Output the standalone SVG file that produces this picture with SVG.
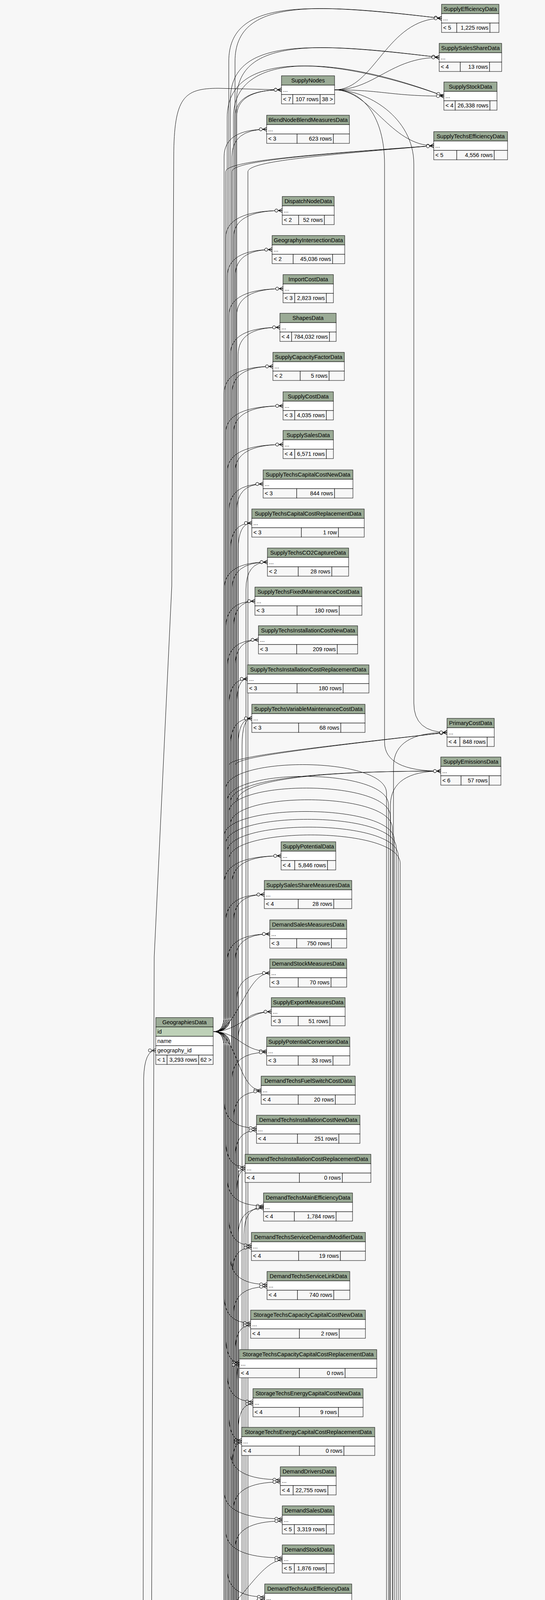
<svg xmlns="http://www.w3.org/2000/svg" width="1396" height="7390" viewBox="0 0 1396 7390">
<defs>
<style>
.h{fill:#9bab96;stroke:#000;stroke-width:1}
.w{fill:#fff;stroke:#000;stroke-width:1}
.k{fill:#bed1b8;stroke:#000;stroke-width:1}
.f{fill:#f7f7f7;stroke:#000;stroke-width:1}
text{font-family:"Liberation Sans",Arial,Helvetica,sans-serif;font-size:14.5px;fill:#000}
.c{text-anchor:middle}
.e{text-anchor:end}
#connectors path{fill:none;stroke:#000;stroke-width:1;marker-end:url(#cf)}
#connectors path.g{stroke:#999}
</style>
<marker id="cf" markerUnits="userSpaceOnUse" markerWidth="24" markerHeight="14" viewBox="-22 -7 24 14" refX="0" refY="0" orient="auto" overflow="visible">
<path d="M-10 0L0-5M-10 0L0 0M-10 0L0 5" fill="none" stroke="#000" stroke-width="1"/>
<circle cx="-15" cy="0" r="4" fill="#fff" stroke="#000" stroke-width="1"/>
</marker>
</defs>
<rect x="0" y="0" width="1396" height="7390" fill="#f7f7f7"/>
<g id="connectors">
<path d="M547 2641Q574 2641 574 2601L574 401Q574 331 683 331"/>
<path d="M547 2641Q578 2641 578 2601L578 609Q578 539 723 539"/>
<path d="M547 2641Q582 2641 582 2601L582 709Q582 639 697 639"/>
<path d="M547 2641Q586 2641 586 2601L586 809Q586 739 725 739"/>
<path d="M547 2641Q590 2641 590 2601L590 908Q590 838 717 838"/>
<path d="M547 2641Q574 2641 574 2601L574 1008Q574 938 699 938"/>
<path d="M547 2641Q578 2641 578 2601L578 1109Q578 1039 725 1039"/>
<path d="M547 2641Q582 2641 582 2601L582 1208Q582 1138 725 1138"/>
<path d="M547 2641Q586 2641 586 2601L586 1309Q586 1239 674 1239"/>
<path d="M547 2641Q590 2641 590 2601L590 1409Q590 1339 645 1339"/>
<path d="M547 2641Q574 2641 574 2601L574 1509Q574 1439 685 1439"/>
<path d="M547 2641Q578 2641 578 2601L578 1609Q578 1539 653 1539"/>
<path d="M547 2641Q582 2641 582 2601L582 1708Q582 1638 662 1638"/>
<path d="M547 2641Q586 2641 586 2601L586 1808Q586 1738 634 1738"/>
<path d="M547 2641Q590 2641 590 2601L590 1909Q590 1839 645 1839"/>
<path d="M547 2641Q574 2641 574 2601L574 2261Q574 2191 720 2191"/>
<path d="M547 2641Q578 2641 578 2601L578 2360Q578 2290 677 2290"/>
<path d="M547 2641Q582 2641 582 2601L582 2461Q582 2391 691 2391"/>
<path d="M547 2641C607 2641 631 2491 691 2491"/>
<path d="M547 2641C607 2641 635 2590 695 2590"/>
<path d="M547 2641C607 2641 623 2691 683 2691"/>
<path d="M547 2641C607 2641 609 2791 669 2791"/>
<path d="M547 2641Q586 2641 586 2601L586 157C586 -3 786 7 1131 47"/>
<path d="M547 2641Q590 2641 590 2601L590 257C590 97 790 107 1125 147"/>
<path d="M547 2641Q582 2641 582 2601L582 300C582 130 842 140 1137 246"/>
<path d="M547 2641Q578 2641 578 2601L578 440C578 415 728 400 1111 373"/>
<path d="M547 2641Q586 2641 586 2601L586 1960C586 1940 700 1925 1145 1875"/>
<path d="M547 2641Q590 2641 590 2601L590 2054C590 2004 740 1974 1129 1974"/>
<path d="M547 2641Q574 2641 574 2681L574 2818Q574 2888 657 2888"/>
<path d="M547 2641Q578 2641 578 2681L578 2918Q578 2988 628 2988"/>
<path d="M547 2641Q582 2641 582 2681L582 3017Q582 3087 675 3087"/>
<path d="M547 2641Q586 2641 586 2681L586 3118Q586 3188 644 3188"/>
<path d="M547 2641Q590 2641 590 2681L590 3218Q590 3288 684 3288"/>
<path d="M547 2641Q574 2641 574 2681L574 3317Q574 3387 642 3387"/>
<path d="M547 2641Q578 2641 578 2681L578 3418Q578 3488 613 3488"/>
<path d="M547 2641Q582 2641 582 2681L582 3518Q582 3588 648 3588"/>
<path d="M547 2641Q586 2641 586 2681L586 3617Q586 3687 619 3687"/>
<path d="M547 2641Q590 2641 590 2681L590 3718Q590 3788 718 3788"/>
<path d="M547 2641Q574 2641 574 2681L574 3818Q574 3888 723 3888"/>
<path d="M547 2641Q578 2641 578 2681L578 3918Q578 3988 723 3988"/>
<path d="M547 2641Q582 2641 582 2681L582 4018Q582 4088 678 4088"/>
<path d="M547 2641Q586 2641 586 2681L586 4117Q586 4187 669 4187"/>
<path d="M547 2641Q590 2641 590 2681L590 4218Q590 4288 640 4288"/>
<path d="M547 2641Q574 2641 574 2681L574 4318Q574 4388 647 4388"/>
<path d="M547 2641Q578 2641 578 2681L578 4505Q578 4575 726 4575"/>
<path d="M547 2641Q582 2641 582 2681L582 4606Q582 4676 697 4676"/>
<path d="M547 2641Q586 2641 586 2681L586 4758Q586 4828 697 4828"/>
<path d="M547 2641Q590 2641 590 2681L590 5033Q590 5103 678 5103"/>
<path d="M547 2641Q574 2641 574 2681L574 5185Q574 5255 686 5255"/>
<path d="M547 2641Q578 2641 578 2681L578 5374Q578 5444 669 5444"/>
<path d="M547 2641Q582 2641 582 2681L582 5473Q582 5543 687 5543"/>
<path d="M547 2641Q586 2641 586 2681L586 5574Q586 5644 686 5644"/>
<path d="M547 2641Q578 2641 578 2601L578 2020C578 1935 990 1935 990 2030L990 4423Q990 4503 1059 4503"/>
<path d="M547 2641Q582 2641 582 2601L582 2050C582 1965 995 1965 995 2060L995 4674Q995 4754 1066 4754"/>
<path d="M547 2641Q586 2641 586 2601L586 2080C586 1995 1000 1995 1000 2090L1000 4778Q1000 4858 1031 4858"/>
<path d="M547 2641Q590 2641 590 2601L590 2110C590 2025 1005 2025 1005 2120L1005 4878Q1005 4958 1071 4958"/>
<path d="M547 2641Q574 2641 574 2601L574 2140C574 2055 1010 2055 1010 2150L1010 5003Q1010 5083 1054 5083"/>
<path d="M547 2641Q578 2641 578 2601L578 2160C578 2075 1015 2075 1015 2170L1015 5250Q1015 5330 1058 5330"/>
<path d="M547 2641Q582 2641 582 2601L582 2180C582 2095 1020 2095 1020 2190L1020 5350Q1020 5430 1074 5430"/>
<path d="M547 2641Q586 2641 586 2601L586 2200C586 2115 1025 2115 1025 2210L1025 5874Q1025 5954 1043 5954"/>
<path d="M540 4141Q594 4141 594 4101L594 401Q594 331 683 331"/>
<path d="M540 4141Q598 4141 598 4101L598 609Q598 539 723 539"/>
<path d="M540 4141Q602 4141 602 4101L602 709Q602 639 697 639"/>
<path d="M540 4141Q606 4141 606 4101L606 809Q606 739 725 739"/>
<path d="M540 4141Q610 4141 610 4101L610 908Q610 838 717 838"/>
<path d="M540 4141Q594 4141 594 4101L594 1008Q594 938 699 938"/>
<path d="M540 4141Q598 4141 598 4101L598 1109Q598 1039 725 1039"/>
<path d="M540 4141Q602 4141 602 4101L602 1208Q602 1138 725 1138"/>
<path d="M540 4141Q606 4141 606 4101L606 1309Q606 1239 674 1239"/>
<path d="M540 4141Q610 4141 610 4101L610 1409Q610 1339 645 1339"/>
<path d="M540 4141Q594 4141 594 4101L594 1509Q594 1439 685 1439"/>
<path d="M540 4141Q598 4141 598 4101L598 1609Q598 1539 653 1539"/>
<path d="M540 4141Q602 4141 602 4101L602 1708Q602 1638 662 1638"/>
<path d="M540 4141Q606 4141 606 4101L606 1808Q606 1738 634 1738"/>
<path d="M540 4141Q610 4141 610 4101L610 1909Q610 1839 645 1839"/>
<path d="M540 4141Q594 4141 594 4101L594 2261Q594 2191 720 2191"/>
<path d="M540 4141Q598 4141 598 4101L598 2360Q598 2290 677 2290"/>
<path d="M540 4141Q602 4141 602 4101L602 2461Q602 2391 691 2391"/>
<path d="M540 4141Q606 4141 606 4101L606 2561Q606 2491 691 2491"/>
<path d="M540 4141Q610 4141 610 4101L610 2660Q610 2590 695 2590"/>
<path d="M540 4141Q594 4141 594 4101L594 2764Q594 2694 683 2694"/>
<path d="M540 4141Q598 4141 598 4101L598 2864Q598 2794 669 2794"/>
<path d="M540 4141Q602 4141 602 4101L602 2964Q602 2894 657 2894"/>
<path d="M540 4141Q606 4141 606 4101L606 3064Q606 2994 628 2994"/>
<path d="M540 4141Q610 4141 610 4101L610 3163Q610 3093 675 3093"/>
<path d="M540 4141Q594 4141 594 4101L594 3264Q594 3194 644 3194"/>
<path d="M540 4141Q598 4141 598 4101L598 3364Q598 3294 684 3294"/>
<path d="M540 4141Q602 4141 602 4101L602 3463Q602 3393 642 3393"/>
<path d="M540 4141Q606 4141 606 4101L606 3564Q606 3494 613 3494"/>
<path d="M540 4141Q610 4141 610 4101L610 3664Q610 3594 648 3594"/>
<path d="M540 4141Q594 4141 594 4101L594 3763Q594 3693 619 3693"/>
<path d="M540 4141Q598 4141 598 4101L598 3864Q598 3794 718 3794"/>
<path d="M540 4141Q602 4141 602 4101L602 3964Q602 3894 723 3894"/>
<path d="M540 4141C600 4141 663 3994 723 3994"/>
<path d="M540 4141C600 4141 618 4094 678 4094"/>
<path d="M540 4141C600 4141 609 4193 669 4193"/>
<path d="M540 4141C600 4141 580 4294 640 4294"/>
<path d="M540 4141Q606 4141 606 4181L606 4324Q606 4394 647 4394"/>
<path d="M540 4141Q610 4141 610 4181L610 4511Q610 4581 726 4581"/>
<path d="M540 4141Q594 4141 594 4181L594 4612Q594 4682 697 4682"/>
<path d="M540 4141Q598 4141 598 4181L598 4764Q598 4834 697 4834"/>
<path d="M540 4141Q602 4141 602 4181L602 5039Q602 5109 678 5109"/>
<path d="M540 4141Q606 4141 606 4181L606 5191Q606 5261 686 5261"/>
<path d="M540 4141Q610 4141 610 4181L610 5380Q610 5450 669 5450"/>
<path d="M540 4141Q594 4141 594 4181L594 5479Q594 5549 687 5549"/>
<path d="M540 4141Q598 4141 598 4181L598 5580Q598 5650 686 5650"/>
<path d="M540 4141Q602 4141 602 4101L602 157C602 -3 802 7 1131 47"/>
<path d="M540 4141Q606 4141 606 4101L606 257C606 97 806 107 1125 147"/>
<path d="M540 4141Q598 4141 598 4101L598 300C598 130 858 140 1137 246"/>
<path d="M540 4141Q594 4141 594 4101L594 440C594 415 744 400 1111 373"/>
<path d="M540 4141Q602 4141 602 4101L602 1960C602 1940 716 1925 1145 1875"/>
<path d="M540 4141Q606 4141 606 4101L606 2054C606 2004 756 1974 1129 1974"/>
<path d="M540 4141Q602 4141 602 4181L602 4413C602 4523 709 4518 1059 4503"/>
<path d="M540 4141Q606 4141 606 4181L606 4664C606 4774 716 4769 1066 4754"/>
<path d="M540 4141Q610 4141 610 4181L610 4768C610 4878 681 4873 1031 4858"/>
<path d="M540 4141Q594 4141 594 4181L594 4868C594 4978 721 4973 1071 4958"/>
<path d="M540 4141Q598 4141 598 4181L598 5017C598 5127 704 5122 1054 5107"/>
<path d="M540 4141Q602 4141 602 4181L602 5041C602 5151 704 5146 1054 5131"/>
<path d="M540 4141Q606 4141 606 4181L606 5240C606 5350 708 5345 1058 5330"/>
<path d="M540 4141Q610 4141 610 4181L610 5340C610 5450 724 5445 1074 5430"/>
<path d="M540 4141Q594 4141 594 4181L594 5864C594 5974 693 5969 1043 5954"/>
<path d="M857 230C960 230 990 47 1131 47"/>
<path d="M857 230C960 230 1000 147 1125 147"/>
<path d="M857 230C980 230 1000 246 1137 246"/>
<path d="M857 230C950 230 1000 373 1111 373"/>
<path d="M857 230C940 230 1060 300 1060 420L1060 1800Q1060 1875 1145 1875"/>
<path d="M857 230C930 230 985 300 985 420L985 1900Q985 1974 1129 1974"/>
<path d="M691 6702Q625 6702 625 6662L625 3160Q625 3090 675 3090"/>
<path d="M701 7026Q630 7026 630 6986L630 1509Q630 1439 685 1439"/>
<path d="M710 7126Q635 7126 635 7086L635 440C635 415 785 400 1111 373"/>
<path d="M660 7226Q620 7226 620 7186L620 1909Q620 1839 645 1839"/>
<path d="M138 6922C388 6922 441 6698 691 6698"/>
<path d="M138 6922C380 6922 441 6706 691 6706"/>
<path d="M138 6922C388 6922 444 6798 694 6798"/>
<path d="M138 6922C380 6922 444 6806 694 6806"/>
<path d="M138 6922C388 6922 451 7022 701 7022"/>
<path d="M138 6922C380 6922 451 7030 701 7030"/>
<path d="M138 6922C388 6922 460 7122 710 7122"/>
<path d="M138 6922C380 6922 460 7130 710 7130"/>
<path d="M138 6922C388 6922 410 7222 660 7222"/>
<path d="M138 6922C380 6922 410 7230 660 7230"/>
<path d="M138 6922C538 6922 647 6848 1047 6848"/>
<path d="M138 6922C530 6922 647 6856 1047 6856"/>
<path d="M138 6922C388 6922 424 6410 674 6410"/>
<path d="M138 6922C380 6922 424 6418 674 6418"/>
<path d="M138 6922C388 6922 435 6510 685 6510"/>
<path d="M138 6922C380 6922 435 6518 685 6518"/>
<path d="M138 6922C388 6922 421 6146 671 6146"/>
<path d="M138 6922C388 6922 421 6170 671 6170"/>
<path d="M138 6922C388 6922 430 5815 680 5815"/>
<path d="M138 6922C380 6922 430 5823 680 5823"/>
<path d="M138 6922C538 6922 671 6644 1071 6644"/>
<path d="M138 6922C400 6922 602 6850 602 6600L602 300Q602 230 721 230"/>
<path d="M138 6922C170 6922 175 7050 200 7150C240 7310 480 7345 800 7345C990 7345 1000 7250 1003 7050L1008 1960Q1010 1875 1145 1875"/>
<path d="M138 6922C165 6922 168 7050 192 7150C232 7300 480 7335 800 7335C980 7335 992 7250 995 7050L1000 2060Q1002 1974 1129 1974"/>
<path d="M135 6437C280 6437 365 6350 365 6150L368 2760Q370 2689 399 2689"/>
<path d="M135 6437C300 6437 380 6380 380 6200L395 2450L440 1500L445 400C446 250 470 226 560 226L721 230"/>
<path d="M135 6437C385 6437 424 6414 674 6414"/>
<path d="M135 6437C385 6437 435 6514 685 6514"/>
<path d="M135 6437C385 6437 421 6074 671 6074"/>
<path d="M135 6437C385 6437 441 6702 691 6702"/>
<path d="M135 6437C385 6437 444 6802 694 6802"/>
<path d="M135 6437C535 6437 647 6852 1047 6852"/>
<path d="M135 6437C535 6437 671 6640 1071 6640"/>
<path d="M135 6437C385 6437 430 5819 680 5819"/>
<path d="M135 6437C385 6437 451 7026 701 7026"/>
<path d="M135 6437C385 6437 460 7126 710 7126"/>
<path d="M135 6437C385 6437 410 7226 660 7226"/>
<path d="M135 6437C175 6437 183 6380 183 6250L185 6040Q186 5967 203 5967"/>
<path d="M135 6138C250 6138 350 6080 350 5950L350 4270Q350 4189 404 4189"/>
<path d="M135 6138C400 6138 606 6050 606 5800L606 300Q606 230 721 230"/>
<path d="M135 6138C385 6138 421 6098 671 6098"/>
<path d="M135 6138C385 6138 421 6122 671 6122"/>
<path d="M135 6138C385 6138 424 6414 674 6414"/>
<path d="M135 6138C385 6138 435 6514 685 6514"/>
<path d="M135 6138C385 6138 441 6702 691 6702"/>
<path d="M135 6138C385 6138 444 6802 694 6802"/>
<path d="M135 6138C535 6138 647 6852 1047 6852"/>
<path d="M135 6138C535 6138 671 6648 1071 6648"/>
<path d="M135 6138C385 6138 430 5823 680 5823"/>
<path d="M135 6138C180 6138 170 5967 203 5967"/>
<path d="M131 5717C185 5717 175 5967 203 5967"/>
<path d="M131 5717C381 5717 421 6026 671 6026"/>
<path d="M131 5717C381 5717 424 6414 674 6414"/>
<path d="M131 5717C381 5717 435 6514 685 6514"/>
<path d="M131 5717C381 5717 430 5819 680 5819"/>
<path d="M131 5717C381 5717 441 6702 691 6702"/>
<path d="M548 6138C610 6138 611 6218 671 6218"/>
<path d="M548 6138C620 6138 602 6414 674 6414"/>
<path d="M548 6138C620 6138 613 6514 685 6514"/>
<path d="M548 6138C620 6138 619 6702 691 6702"/>
<path d="M548 6138C620 6138 622 6802 694 6802"/>
<path d="M542 5894C610 5894 611 6002 671 6002"/>
<path d="M542 5894C620 5894 604 6414 674 6414"/>
<path d="M542 5894C620 5894 615 6514 685 6514"/>
<path d="M542 5894C610 5894 620 5819 680 5819"/>
<path d="M542 5894C620 5894 621 6702 691 6702"/>
<path d="M542 5894C620 5894 624 6802 694 6802"/>
<path d="M542 5894C620 5894 616 5258 686 5258"/>
<path d="M542 5894C620 5894 599 5447 669 5447"/>
<path d="M542 5894C620 5894 617 5546 687 5546"/>
<path d="M542 5894C620 5894 616 5647 686 5647"/>
<path d="M331 5967C375 5967 360 5722 408 5722"/>
<path d="M331 5967C370 5967 365 5894 403 5894"/>
<path d="M536 5674C640 5674 700 5760 960 5745C1000 5742 1000 5700 1000 5600L1000 5300Q1000 5227 1054 5227"/>
<path d="M536 5674C610 5674 616 5262 686 5262"/>
<path d="M536 5674C610 5674 599 5451 669 5451"/>
<path d="M536 5674C610 5674 617 5550 687 5550"/>
<path d="M536 5674C610 5674 626 5651 686 5651"/>
<path d="M536 5674C610 5674 620 5815 680 5815"/>
<path d="M536 5674C620 5674 621 6698 691 6698"/>
<path d="M536 5674C620 5674 624 6798 694 6798"/>
<path d="M536 5674C800 5674 900 6636 1071 6636"/>
<path d="M536 5674C800 5674 900 6844 1047 6844"/>
<path d="M900 5819C955 5819 970 5780 970 5700L970 4580Q970 4503 1059 4503"/>
<path d="M900 5819C958 5819 975 5780 975 5700L975 4830Q975 4754 1066 4754"/>
<path d="M900 5819C960 5819 980 5780 980 5700L980 4930Q980 4858 1031 4858"/>
<path d="M900 5819C970 5819 985 5880 985 6000L985 6780Q985 6852 1047 6852"/>
<path class="g" d="M908 5954L1043 5954"/>
<path d="M908 5954C955 5954 965 5900 965 5800L965 5135Q965 5059 1054 5059"/>
<path d="M908 5954C960 5954 970 5900 970 5800L970 5030Q970 4958 1071 4958"/>
<path d="M908 5954C965 5954 975 6020 975 6100L975 6570Q975 6644 1071 6644"/>
<path d="M906 6414C955 6414 960 6350 960 6250L960 5405Q960 5330 1058 5330"/>
<path d="M906 6414C950 6414 955 6360 955 6260L955 5505Q955 5430 1074 5430"/>
</g>
<g id="SupplyEfficiencyData"><rect class="h" x="1131" y="11" width="147" height="24"/><text class="c" x="1204.5" y="28">SupplyEfficiencyData</text><rect class="w" x="1131" y="35" width="147" height="24"/><text x="1135" y="52">...</text><rect class="f" x="1131" y="59" width="39" height="24"/><rect class="f" x="1170" y="59" width="85" height="24"/><rect class="f" x="1255" y="59" width="23" height="24"/><text x="1135" y="76">&lt; 5</text><text class="e" x="1251" y="76">1,225 rows</text></g>
<g id="SupplySalesShareData"><rect class="h" x="1125" y="111" width="160" height="24"/><text class="c" x="1205" y="128">SupplySalesShareData</text><rect class="w" x="1125" y="135" width="160" height="24"/><text x="1129" y="152">...</text><rect class="f" x="1125" y="159" width="54" height="24"/><rect class="f" x="1179" y="159" width="75" height="24"/><rect class="f" x="1254" y="159" width="31" height="24"/><text x="1129" y="176">&lt; 4</text><text class="e" x="1250" y="176">13 rows</text></g>
<g id="SupplyStockData"><rect class="h" x="1137" y="210" width="136" height="24"/><text class="c" x="1205" y="227">SupplyStockData</text><rect class="w" x="1137" y="234" width="136" height="24"/><text x="1141" y="251">...</text><rect class="f" x="1137" y="258" width="29" height="24"/><rect class="f" x="1166" y="258" width="89" height="24"/><rect class="f" x="1255" y="258" width="18" height="24"/><text x="1141" y="275">&lt; 4</text><text class="e" x="1251" y="275">26,338 rows</text></g>
<g id="SupplyTechsEfficiencyData"><rect class="h" x="1111" y="337" width="189" height="24"/><text class="c" x="1205.5" y="354">SupplyTechsEfficiencyData</text><rect class="w" x="1111" y="361" width="189" height="24"/><text x="1115" y="378">...</text><rect class="f" x="1111" y="385" width="59" height="24"/><rect class="f" x="1170" y="385" width="96" height="24"/><rect class="f" x="1266" y="385" width="34" height="24"/><text x="1115" y="402">&lt; 5</text><text class="e" x="1262" y="402">4,556 rows</text></g>
<g id="SupplyNodes"><rect class="h" x="721" y="194" width="136" height="24"/><text class="c" x="789" y="211">SupplyNodes</text><rect class="w" x="721" y="218" width="136" height="24"/><text x="725" y="235">...</text><rect class="f" x="721" y="242" width="29" height="24"/><rect class="f" x="750" y="242" width="70" height="24"/><rect class="f" x="820" y="242" width="37" height="24"/><text x="725" y="259">&lt; 7</text><text class="e" x="816" y="259">107 rows</text><text class="e" x="853" y="259">38 &gt;</text></g>
<g id="BlendNodeBlendMeasuresData"><rect class="h" x="683" y="295" width="212" height="24"/><text class="c" x="789" y="312">BlendNodeBlendMeasuresData</text><rect class="w" x="683" y="319" width="212" height="24"/><text x="687" y="336">...</text><rect class="f" x="683" y="343" width="78" height="24"/><rect class="f" x="761" y="343" width="93" height="24"/><rect class="f" x="854" y="343" width="41" height="24"/><text x="687" y="360">&lt; 3</text><text class="e" x="850" y="360">623 rows</text></g>
<g id="DispatchNodeData"><rect class="h" x="723" y="503" width="133" height="24"/><text class="c" x="789.5" y="520">DispatchNodeData</text><rect class="w" x="723" y="527" width="133" height="24"/><text x="727" y="544">...</text><rect class="f" x="723" y="551" width="42" height="24"/><rect class="f" x="765" y="551" width="66" height="24"/><rect class="f" x="831" y="551" width="25" height="24"/><text x="727" y="568">&lt; 2</text><text class="e" x="827" y="568">52 rows</text></g>
<g id="GeographyIntersectionData"><rect class="h" x="697" y="603" width="186" height="24"/><text class="c" x="790" y="620">GeographyIntersectionData</text><rect class="w" x="697" y="627" width="186" height="24"/><text x="701" y="644">...</text><rect class="f" x="697" y="651" width="54" height="24"/><rect class="f" x="751" y="651" width="101" height="24"/><rect class="f" x="852" y="651" width="31" height="24"/><text x="701" y="668">&lt; 2</text><text class="e" x="848" y="668">45,036 rows</text></g>
<g id="ImportCostData"><rect class="h" x="725" y="703" width="129" height="24"/><text class="c" x="789.5" y="720">ImportCostData</text><rect class="w" x="725" y="727" width="129" height="24"/><text x="729" y="744">...</text><rect class="f" x="725" y="751" width="30" height="24"/><rect class="f" x="755" y="751" width="81" height="24"/><rect class="f" x="836" y="751" width="18" height="24"/><text x="729" y="768">&lt; 3</text><text class="e" x="832" y="768">2,823 rows</text></g>
<g id="ShapesData"><rect class="h" x="717" y="802" width="144" height="24"/><text class="c" x="789" y="819">ShapesData</text><rect class="w" x="717" y="826" width="144" height="24"/><text x="721" y="843">...</text><rect class="f" x="717" y="850" width="30" height="24"/><rect class="f" x="747" y="850" width="97" height="24"/><rect class="f" x="844" y="850" width="17" height="24"/><text x="721" y="867">&lt; 4</text><text class="e" x="840" y="867">784,032 rows</text></g>
<g id="SupplyCapacityFactorData"><rect class="h" x="699" y="902" width="183" height="24"/><text class="c" x="790.5" y="919">SupplyCapacityFactorData</text><rect class="w" x="699" y="926" width="183" height="24"/><text x="703" y="943">...</text><rect class="f" x="699" y="950" width="70" height="24"/><rect class="f" x="769" y="950" width="74" height="24"/><rect class="f" x="843" y="950" width="39" height="24"/><text x="703" y="967">&lt; 2</text><text class="e" x="839" y="967">5 rows</text></g>
<g id="SupplyCostData"><rect class="h" x="725" y="1003" width="129" height="24"/><text class="c" x="789.5" y="1020">SupplyCostData</text><rect class="w" x="725" y="1027" width="129" height="24"/><text x="729" y="1044">...</text><rect class="f" x="725" y="1051" width="30" height="24"/><rect class="f" x="755" y="1051" width="81" height="24"/><rect class="f" x="836" y="1051" width="18" height="24"/><text x="729" y="1068">&lt; 3</text><text class="e" x="832" y="1068">4,035 rows</text></g>
<g id="SupplySalesData"><rect class="h" x="725" y="1102" width="129" height="24"/><text class="c" x="789.5" y="1119">SupplySalesData</text><rect class="w" x="725" y="1126" width="129" height="24"/><text x="729" y="1143">...</text><rect class="f" x="725" y="1150" width="30" height="24"/><rect class="f" x="755" y="1150" width="81" height="24"/><rect class="f" x="836" y="1150" width="18" height="24"/><text x="729" y="1167">&lt; 4</text><text class="e" x="832" y="1167">6,571 rows</text></g>
<g id="SupplyTechsCapitalCostNewData"><rect class="h" x="674" y="1203" width="230" height="24"/><text class="c" x="789" y="1220">SupplyTechsCapitalCostNewData</text><rect class="w" x="674" y="1227" width="230" height="24"/><text x="678" y="1244">...</text><rect class="f" x="674" y="1251" width="86" height="24"/><rect class="f" x="760" y="1251" width="97" height="24"/><rect class="f" x="857" y="1251" width="47" height="24"/><text x="678" y="1268">&lt; 3</text><text class="e" x="853" y="1268">844 rows</text></g>
<g id="SupplyTechsCapitalCostReplacementData"><rect class="h" x="645" y="1303" width="288" height="24"/><text class="c" x="789" y="1320">SupplyTechsCapitalCostReplacementData</text><rect class="w" x="645" y="1327" width="288" height="24"/><text x="649" y="1344">...</text><rect class="f" x="645" y="1351" width="127" height="24"/><rect class="f" x="772" y="1351" width="95" height="24"/><rect class="f" x="867" y="1351" width="66" height="24"/><text x="649" y="1368">&lt; 3</text><text class="e" x="863" y="1368">1 row</text></g>
<g id="SupplyTechsCO2CaptureData"><rect class="h" x="685" y="1403" width="208" height="24"/><text class="c" x="789" y="1420">SupplyTechsCO2CaptureData</text><rect class="w" x="685" y="1427" width="208" height="24"/><text x="689" y="1444">...</text><rect class="f" x="685" y="1451" width="79" height="24"/><rect class="f" x="764" y="1451" width="86" height="24"/><rect class="f" x="850" y="1451" width="43" height="24"/><text x="689" y="1468">&lt; 2</text><text class="e" x="846" y="1468">28 rows</text></g>
<g id="SupplyTechsFixedMaintenanceCostData"><rect class="h" x="653" y="1503" width="274" height="24"/><text class="c" x="790" y="1520">SupplyTechsFixedMaintenanceCostData</text><rect class="w" x="653" y="1527" width="274" height="24"/><text x="657" y="1544">...</text><rect class="f" x="653" y="1551" width="108" height="24"/><rect class="f" x="761" y="1551" width="108" height="24"/><rect class="f" x="869" y="1551" width="58" height="24"/><text x="657" y="1568">&lt; 3</text><text class="e" x="865" y="1568">180 rows</text></g>
<g id="SupplyTechsInstallationCostNewData"><rect class="h" x="662" y="1602" width="254" height="24"/><text class="c" x="789" y="1619">SupplyTechsInstallationCostNewData</text><rect class="w" x="662" y="1626" width="254" height="24"/><text x="666" y="1643">...</text><rect class="f" x="662" y="1650" width="98" height="24"/><rect class="f" x="760" y="1650" width="104" height="24"/><rect class="f" x="864" y="1650" width="52" height="24"/><text x="666" y="1667">&lt; 3</text><text class="e" x="860" y="1667">209 rows</text></g>
<g id="SupplyTechsInstallationCostReplacementData"><rect class="h" x="634" y="1702" width="311" height="24"/><text class="c" x="789.5" y="1719">SupplyTechsInstallationCostReplacementData</text><rect class="w" x="634" y="1726" width="311" height="24"/><text x="638" y="1743">...</text><rect class="f" x="634" y="1750" width="127" height="24"/><rect class="f" x="761" y="1750" width="118" height="24"/><rect class="f" x="879" y="1750" width="66" height="24"/><text x="638" y="1767">&lt; 3</text><text class="e" x="875" y="1767">180 rows</text></g>
<g id="SupplyTechsVariableMaintenanceCostData"><rect class="h" x="645" y="1803" width="290" height="24"/><text class="c" x="790" y="1820">SupplyTechsVariableMaintenanceCostData</text><rect class="w" x="645" y="1827" width="290" height="24"/><text x="649" y="1844">...</text><rect class="f" x="645" y="1851" width="120" height="24"/><rect class="f" x="765" y="1851" width="108" height="24"/><rect class="f" x="873" y="1851" width="62" height="24"/><text x="649" y="1868">&lt; 3</text><text class="e" x="869" y="1868">68 rows</text></g>
<g id="PrimaryCostData"><rect class="h" x="1145" y="1839" width="121" height="24"/><text class="c" x="1205.5" y="1856">PrimaryCostData</text><rect class="w" x="1145" y="1863" width="121" height="24"/><text x="1149" y="1880">...</text><rect class="f" x="1145" y="1887" width="33" height="24"/><rect class="f" x="1178" y="1887" width="70" height="24"/><rect class="f" x="1248" y="1887" width="18" height="24"/><text x="1149" y="1904">&lt; 4</text><text class="e" x="1244" y="1904">848 rows</text></g>
<g id="SupplyEmissionsData"><rect class="h" x="1129" y="1938" width="154" height="24"/><text class="c" x="1206" y="1955">SupplyEmissionsData</text><rect class="w" x="1129" y="1962" width="154" height="24"/><text x="1133" y="1979">...</text><rect class="f" x="1129" y="1986" width="52" height="24"/><rect class="f" x="1181" y="1986" width="72" height="24"/><rect class="f" x="1253" y="1986" width="30" height="24"/><text x="1133" y="2003">&lt; 6</text><text class="e" x="1249" y="2003">57 rows</text></g>
<g id="SupplyPotentialData"><rect class="h" x="720" y="2155" width="140" height="24"/><text class="c" x="790" y="2172">SupplyPotentialData</text><rect class="w" x="720" y="2179" width="140" height="24"/><text x="724" y="2196">...</text><rect class="f" x="720" y="2203" width="35" height="24"/><rect class="f" x="755" y="2203" width="84" height="24"/><rect class="f" x="839" y="2203" width="21" height="24"/><text x="724" y="2220">&lt; 4</text><text class="e" x="835" y="2220">5,846 rows</text></g>
<g id="SupplySalesShareMeasuresData"><rect class="h" x="677" y="2254" width="224" height="24"/><text class="c" x="789" y="2271">SupplySalesShareMeasuresData</text><rect class="w" x="677" y="2278" width="224" height="24"/><text x="681" y="2295">...</text><rect class="f" x="677" y="2302" width="87" height="24"/><rect class="f" x="764" y="2302" width="91" height="24"/><rect class="f" x="855" y="2302" width="46" height="24"/><text x="681" y="2319">&lt; 4</text><text class="e" x="851" y="2319">28 rows</text></g>
<g id="DemandSalesMeasuresData"><rect class="h" x="691" y="2355" width="197" height="24"/><text class="c" x="789.5" y="2372">DemandSalesMeasuresData</text><rect class="w" x="691" y="2379" width="197" height="24"/><text x="695" y="2396">...</text><rect class="f" x="691" y="2403" width="69" height="24"/><rect class="f" x="760" y="2403" width="89" height="24"/><rect class="f" x="849" y="2403" width="39" height="24"/><text x="695" y="2420">&lt; 3</text><text class="e" x="845" y="2420">750 rows</text></g>
<g id="DemandStockMeasuresData"><rect class="h" x="691" y="2455" width="197" height="24"/><text class="c" x="789.5" y="2472">DemandStockMeasuresData</text><rect class="w" x="691" y="2479" width="197" height="24"/><text x="695" y="2496">...</text><rect class="f" x="691" y="2503" width="73" height="24"/><rect class="f" x="764" y="2503" width="84" height="24"/><rect class="f" x="848" y="2503" width="40" height="24"/><text x="695" y="2520">&lt; 3</text><text class="e" x="844" y="2520">70 rows</text></g>
<g id="SupplyExportMeasuresData"><rect class="h" x="695" y="2554" width="189" height="24"/><text class="c" x="789.5" y="2571">SupplyExportMeasuresData</text><rect class="w" x="695" y="2578" width="189" height="24"/><text x="699" y="2595">...</text><rect class="f" x="695" y="2602" width="69" height="24"/><rect class="f" x="764" y="2602" width="81" height="24"/><rect class="f" x="845" y="2602" width="39" height="24"/><text x="699" y="2619">&lt; 3</text><text class="e" x="841" y="2619">51 rows</text></g>
<g id="SupplyPotentialConversionData"><rect class="h" x="683" y="2655" width="213" height="24"/><text class="c" x="789.5" y="2672">SupplyPotentialConversionData</text><rect class="w" x="683" y="2679" width="213" height="24"/><text x="687" y="2696">...</text><rect class="f" x="683" y="2703" width="81" height="24"/><rect class="f" x="764" y="2703" width="89" height="24"/><rect class="f" x="853" y="2703" width="43" height="24"/><text x="687" y="2720">&lt; 3</text><text class="e" x="849" y="2720">33 rows</text></g>
<g id="DemandTechsFuelSwitchCostData"><rect class="h" x="669" y="2755" width="241" height="24"/><text class="c" x="789.5" y="2772">DemandTechsFuelSwitchCostData</text><rect class="w" x="669" y="2779" width="241" height="24"/><text x="673" y="2796">...</text><rect class="f" x="669" y="2803" width="95" height="24"/><rect class="f" x="764" y="2803" width="95" height="24"/><rect class="f" x="859" y="2803" width="51" height="24"/><text x="673" y="2820">&lt; 4</text><text class="e" x="855" y="2820">20 rows</text></g>
<g id="GeographiesData"><rect class="h" x="399" y="2605" width="147" height="24"/><text class="c" x="472.5" y="2622">GeographiesData</text><rect class="k" x="399" y="2629" width="147" height="24"/><text x="403" y="2646">id</text><rect class="w" x="399" y="2653" width="147" height="24"/><text x="403" y="2670">name</text><rect class="w" x="399" y="2677" width="147" height="24"/><text x="403" y="2694">geography_id</text><rect class="f" x="399" y="2701" width="29" height="24"/><rect class="f" x="428" y="2701" width="81" height="24"/><rect class="f" x="509" y="2701" width="37" height="24"/><text x="403" y="2718">&lt; 1</text><text class="e" x="505" y="2718">3,293 rows</text><text class="e" x="542" y="2718">62 &gt;</text></g>
<g id="DemandTechsInstallationCostNewData"><rect class="h" x="657" y="2855" width="265" height="24"/><text class="c" x="789.5" y="2872">DemandTechsInstallationCostNewData</text><rect class="w" x="657" y="2879" width="265" height="24"/><text x="661" y="2896">...</text><rect class="f" x="657" y="2903" width="105" height="24"/><rect class="f" x="762" y="2903" width="106" height="24"/><rect class="f" x="868" y="2903" width="54" height="24"/><text x="661" y="2920">&lt; 4</text><text class="e" x="864" y="2920">251 rows</text></g>
<g id="DemandTechsInstallationCostReplacementData"><rect class="h" x="628" y="2955" width="322" height="24"/><text class="c" x="789" y="2972">DemandTechsInstallationCostReplacementData</text><rect class="w" x="628" y="2979" width="322" height="24"/><text x="632" y="2996">...</text><rect class="f" x="628" y="3003" width="139" height="24"/><rect class="f" x="767" y="3003" width="110" height="24"/><rect class="f" x="877" y="3003" width="73" height="24"/><text x="632" y="3020">&lt; 4</text><text class="e" x="873" y="3020">0 rows</text></g>
<g id="DemandTechsMainEfficiencyData"><rect class="h" x="675" y="3054" width="228" height="24"/><text class="c" x="789" y="3071">DemandTechsMainEfficiencyData</text><rect class="w" x="675" y="3078" width="228" height="24"/><text x="679" y="3095">...</text><rect class="f" x="675" y="3102" width="79" height="24"/><rect class="f" x="754" y="3102" width="107" height="24"/><rect class="f" x="861" y="3102" width="42" height="24"/><text x="679" y="3119">&lt; 4</text><text class="e" x="857" y="3119">1,784 rows</text></g>
<g id="DemandTechsServiceDemandModifierData"><rect class="h" x="644" y="3155" width="292" height="24"/><text class="c" x="790" y="3172">DemandTechsServiceDemandModifierData</text><rect class="w" x="644" y="3179" width="292" height="24"/><text x="648" y="3196">...</text><rect class="f" x="644" y="3203" width="121" height="24"/><rect class="f" x="765" y="3203" width="107" height="24"/><rect class="f" x="872" y="3203" width="64" height="24"/><text x="648" y="3220">&lt; 4</text><text class="e" x="868" y="3220">19 rows</text></g>
<g id="DemandTechsServiceLinkData"><rect class="h" x="684" y="3255" width="212" height="24"/><text class="c" x="790" y="3272">DemandTechsServiceLinkData</text><rect class="w" x="684" y="3279" width="212" height="24"/><text x="688" y="3296">...</text><rect class="f" x="684" y="3303" width="78" height="24"/><rect class="f" x="762" y="3303" width="93" height="24"/><rect class="f" x="855" y="3303" width="41" height="24"/><text x="688" y="3320">&lt; 4</text><text class="e" x="851" y="3320">740 rows</text></g>
<g id="StorageTechsCapacityCapitalCostNewData"><rect class="h" x="642" y="3354" width="294" height="24"/><text class="c" x="789" y="3371">StorageTechsCapacityCapitalCostNewData</text><rect class="w" x="642" y="3378" width="294" height="24"/><text x="646" y="3395">...</text><rect class="f" x="642" y="3402" width="125" height="24"/><rect class="f" x="767" y="3402" width="102" height="24"/><rect class="f" x="869" y="3402" width="67" height="24"/><text x="646" y="3419">&lt; 4</text><text class="e" x="865" y="3419">2 rows</text></g>
<g id="StorageTechsCapacityCapitalCostReplacementData"><rect class="h" x="613" y="3455" width="352" height="24"/><text class="c" x="789" y="3472">StorageTechsCapacityCapitalCostReplacementData</text><rect class="w" x="613" y="3479" width="352" height="24"/><text x="617" y="3496">...</text><rect class="f" x="613" y="3503" width="154" height="24"/><rect class="f" x="767" y="3503" width="117" height="24"/><rect class="f" x="884" y="3503" width="81" height="24"/><text x="617" y="3520">&lt; 4</text><text class="e" x="880" y="3520">0 rows</text></g>
<g id="StorageTechsEnergyCapitalCostNewData"><rect class="h" x="648" y="3555" width="282" height="24"/><text class="c" x="789" y="3572">StorageTechsEnergyCapitalCostNewData</text><rect class="w" x="648" y="3579" width="282" height="24"/><text x="652" y="3596">...</text><rect class="f" x="648" y="3603" width="119" height="24"/><rect class="f" x="767" y="3603" width="100" height="24"/><rect class="f" x="867" y="3603" width="63" height="24"/><text x="652" y="3620">&lt; 4</text><text class="e" x="863" y="3620">9 rows</text></g>
<g id="StorageTechsEnergyCapitalCostReplacementData"><rect class="h" x="619" y="3654" width="341" height="24"/><text class="c" x="789.5" y="3671">StorageTechsEnergyCapitalCostReplacementData</text><rect class="w" x="619" y="3678" width="341" height="24"/><text x="623" y="3695">...</text><rect class="f" x="619" y="3702" width="148" height="24"/><rect class="f" x="767" y="3702" width="114" height="24"/><rect class="f" x="881" y="3702" width="79" height="24"/><text x="623" y="3719">&lt; 4</text><text class="e" x="877" y="3719">0 rows</text></g>
<g id="DemandDriversData"><rect class="h" x="718" y="3755" width="143" height="24"/><text class="c" x="789.5" y="3772">DemandDriversData</text><rect class="w" x="718" y="3779" width="143" height="24"/><text x="722" y="3796">...</text><rect class="f" x="718" y="3803" width="33" height="24"/><rect class="f" x="751" y="3803" width="89" height="24"/><rect class="f" x="840" y="3803" width="21" height="24"/><text x="722" y="3820">&lt; 4</text><text class="e" x="836" y="3820">22,755 rows</text></g>
<g id="DemandSalesData"><rect class="h" x="723" y="3855" width="133" height="24"/><text class="c" x="789.5" y="3872">DemandSalesData</text><rect class="w" x="723" y="3879" width="133" height="24"/><text x="727" y="3896">...</text><rect class="f" x="723" y="3903" width="31" height="24"/><rect class="f" x="754" y="3903" width="82" height="24"/><rect class="f" x="836" y="3903" width="20" height="24"/><text x="727" y="3920">&lt; 5</text><text class="e" x="832" y="3920">3,319 rows</text></g>
<g id="DemandStockData"><rect class="h" x="723" y="3955" width="133" height="24"/><text class="c" x="789.5" y="3972">DemandStockData</text><rect class="w" x="723" y="3979" width="133" height="24"/><text x="727" y="3996">...</text><rect class="f" x="723" y="4003" width="31" height="24"/><rect class="f" x="754" y="4003" width="82" height="24"/><rect class="f" x="836" y="4003" width="20" height="24"/><text x="727" y="4020">&lt; 5</text><text class="e" x="832" y="4020">1,876 rows</text></g>
<g id="DemandTechsAuxEfficiencyData"><rect class="h" x="678" y="4055" width="223" height="24"/><text class="c" x="789.5" y="4072">DemandTechsAuxEfficiencyData</text><rect class="w" x="678" y="4079" width="223" height="24"/><text x="682" y="4096">...</text><rect class="f" x="678" y="4103" width="81" height="24"/><rect class="f" x="759" y="4103" width="98" height="24"/><rect class="f" x="857" y="4103" width="44" height="24"/><text x="682" y="4120">&lt; 4</text><text class="e" x="853" y="4120">101 rows</text></g>
<g id="OtherIndexesData"><rect class="h" x="404" y="4105" width="136" height="24"/><text class="c" x="472" y="4122">OtherIndexesData</text><rect class="k" x="404" y="4129" width="136" height="24"/><text x="408" y="4146">id</text><rect class="w" x="404" y="4153" width="136" height="24"/><text x="408" y="4170">name</text><rect class="w" x="404" y="4177" width="136" height="24"/><text x="408" y="4194">other_index_id</text><rect class="f" x="404" y="4201" width="29" height="24"/><rect class="f" x="433" y="4201" width="70" height="24"/><rect class="f" x="503" y="4201" width="37" height="24"/><text x="408" y="4218">&lt; 1</text><text class="e" x="499" y="4218">163 rows</text><text class="e" x="536" y="4218">67 &gt;</text></g>
<g id="DemandTechsCapitalCostNewData"><rect class="h" x="669" y="4154" width="242" height="24"/><text class="c" x="790" y="4171">DemandTechsCapitalCostNewData</text><rect class="w" x="669" y="4178" width="242" height="24"/><text x="673" y="4195">...</text><rect class="f" x="669" y="4202" width="85" height="24"/><rect class="f" x="754" y="4202" width="110" height="24"/><rect class="f" x="864" y="4202" width="47" height="24"/><text x="673" y="4219">&lt; 4</text><text class="e" x="860" y="4219">1,349 rows</text></g>
<g id="DemandTechsCapitalCostReplacementData"><rect class="h" x="640" y="4255" width="300" height="24"/><text class="c" x="790" y="4272">DemandTechsCapitalCostReplacementData</text><rect class="w" x="640" y="4279" width="300" height="24"/><text x="644" y="4296">...</text><rect class="f" x="640" y="4303" width="129" height="24"/><rect class="f" x="769" y="4303" width="103" height="24"/><rect class="f" x="872" y="4303" width="68" height="24"/><text x="644" y="4320">&lt; 4</text><text class="e" x="868" y="4320">0 rows</text></g>
<g id="DemandTechsFixedMaintenanceCostData"><rect class="h" x="647" y="4355" width="285" height="24"/><text class="c" x="789.5" y="4372">DemandTechsFixedMaintenanceCostData</text><rect class="w" x="647" y="4379" width="285" height="24"/><text x="651" y="4396">...</text><rect class="f" x="647" y="4403" width="112" height="24"/><rect class="f" x="759" y="4403" width="113" height="24"/><rect class="f" x="872" y="4403" width="60" height="24"/><text x="651" y="4420">&lt; 4</text><text class="e" x="868" y="4420">352 rows</text></g>
<g id="DemandFuelSwitchingMeasuresImpactData"><rect class="h" x="1059" y="4467" width="294" height="24"/><text class="c" x="1206" y="4484">DemandFuelSwitchingMeasuresImpactData</text><rect class="w" x="1059" y="4491" width="294" height="24"/><text x="1063" y="4508">...</text><rect class="f" x="1059" y="4515" width="122" height="24"/><rect class="f" x="1181" y="4515" width="108" height="24"/><rect class="f" x="1289" y="4515" width="64" height="24"/><text x="1063" y="4532">&lt; 4</text><text class="e" x="1285" y="4532">63 rows</text></g>
<g id="SupplyExportData"><rect class="h" x="726" y="4542" width="126" height="24"/><text class="c" x="789" y="4559">SupplyExportData</text><rect class="w" x="726" y="4566" width="126" height="24"/><text x="730" y="4583">...</text><rect class="f" x="726" y="4590" width="33" height="24"/><rect class="f" x="759" y="4590" width="73" height="24"/><rect class="f" x="832" y="4590" width="20" height="24"/><text x="730" y="4607">&lt; 3</text><text class="e" x="828" y="4607">592 rows</text></g>
<g id="SupplySalesMeasuresData"><rect class="h" x="697" y="4643" width="185" height="24"/><text class="c" x="789.5" y="4660">SupplySalesMeasuresData</text><rect class="w" x="697" y="4667" width="185" height="24"/><text x="701" y="4684">...</text><rect class="f" x="697" y="4691" width="72" height="24"/><rect class="f" x="769" y="4691" width="75" height="24"/><rect class="f" x="844" y="4691" width="38" height="24"/><text x="701" y="4708">&lt; 4</text><text class="e" x="840" y="4708">0 rows</text></g>
<g id="DemandFuelSwitchingMeasuresCostData"><rect class="h" x="1066" y="4718" width="280" height="24"/><text class="c" x="1206" y="4735">DemandFuelSwitchingMeasuresCostData</text><rect class="w" x="1066" y="4742" width="280" height="24"/><text x="1070" y="4759">...</text><rect class="f" x="1066" y="4766" width="119" height="24"/><rect class="f" x="1185" y="4766" width="100" height="24"/><rect class="f" x="1285" y="4766" width="61" height="24"/><text x="1070" y="4783">&lt; 4</text><text class="e" x="1281" y="4783">6 rows</text></g>
<g id="SupplyStockMeasuresData"><rect class="h" x="697" y="4795" width="185" height="24"/><text class="c" x="789.5" y="4812">SupplyStockMeasuresData</text><rect class="w" x="697" y="4819" width="185" height="24"/><text x="701" y="4836">...</text><rect class="f" x="697" y="4843" width="54" height="24"/><rect class="f" x="751" y="4843" width="101" height="24"/><rect class="f" x="852" y="4843" width="30" height="24"/><text x="701" y="4860">&lt; 4</text><text class="e" x="848" y="4860">20,101 rows</text></g>
<g id="DemandFuelSwitchingMeasuresEnergyIntensityData"><rect class="h" x="1031" y="4822" width="349" height="24"/><text class="c" x="1205.5" y="4839">DemandFuelSwitchingMeasuresEnergyIntensityData</text><rect class="w" x="1031" y="4846" width="349" height="24"/><text x="1035" y="4863">...</text><rect class="f" x="1031" y="4870" width="149" height="24"/><rect class="f" x="1180" y="4870" width="100" height="24"/><rect class="f" x="1280" y="4870" width="100" height="24"/><text x="1035" y="4887">&lt; 4</text><text class="e" x="1276" y="4887">31 rows</text></g>
<g id="DemandEnergyEfficiencyMeasuresData"><rect class="h" x="1071" y="4922" width="269" height="24"/><text class="c" x="1205.5" y="4939">DemandEnergyEfficiencyMeasuresData</text><rect class="w" x="1071" y="4946" width="269" height="24"/><text x="1075" y="4963">...</text><rect class="f" x="1071" y="4970" width="105" height="24"/><rect class="f" x="1176" y="4970" width="109" height="24"/><rect class="f" x="1285" y="4970" width="55" height="24"/><text x="1075" y="4987">&lt; 5</text><text class="e" x="1281" y="4987">240 rows</text></g>
<g id="DemandEnergyEfficiencyMeasuresCostData"><rect class="h" x="1054" y="5023" width="302" height="24"/><text class="c" x="1205" y="5040">DemandEnergyEfficiencyMeasuresCostData</text>
<rect class="w" x="1054" y="5047" width="201" height="24"/><rect class="w" x="1255" y="5047" width="101" height="24"/><text x="1058" y="5064">parent_id</text><text x="1259" y="5064">int4[10]</text>
<rect class="w" x="1054" y="5071" width="201" height="24"/><rect class="w" x="1255" y="5071" width="101" height="24"/><text x="1058" y="5088">gau_id</text><text x="1259" y="5088">int4[10]</text>
<rect class="w" x="1054" y="5095" width="201" height="24"/><rect class="w" x="1255" y="5095" width="101" height="24"/><text x="1058" y="5112">oth_1_id</text><text x="1259" y="5112">int4[10]</text>
<rect class="w" x="1054" y="5119" width="201" height="24"/><rect class="w" x="1255" y="5119" width="101" height="24"/><text x="1058" y="5136">oth_2_id</text><text x="1259" y="5136">int4[10]</text>
<rect class="w" x="1054" y="5143" width="201" height="24"/><rect class="w" x="1255" y="5143" width="101" height="24"/><text x="1058" y="5160">vintage</text><text x="1259" y="5160">int4[10]</text>
<rect class="w" x="1054" y="5167" width="201" height="24"/><rect class="w" x="1255" y="5167" width="101" height="24"/><text x="1058" y="5184">value</text><text x="1259" y="5184">float4[8,8]</text>
<rect class="k" x="1054" y="5191" width="201" height="24"/><rect class="k" x="1255" y="5191" width="101" height="24"/><text x="1058" y="5208">id</text><text x="1259" y="5208">serial[10]</text>
<rect class="w" x="1054" y="5215" width="201" height="24"/><rect class="w" x="1255" y="5215" width="101" height="24"/><text x="1058" y="5232">final_energy_id</text><text x="1259" y="5232">int4[10]</text>
<rect class="f" x="1054" y="5239" width="90" height="24"/><rect class="f" x="1144" y="5239" width="111" height="24"/><rect class="f" x="1255" y="5239" width="101" height="24"/><text x="1058" y="5256">&lt; 5</text><text class="e" x="1251" y="5256">1,412 rows</text><text class="e" x="1352" y="5256">0 &gt;</text>
<rect x="1054" y="5023" width="302" height="240" fill="none" stroke="#000" stroke-width="2.5"/></g>
<g id="SupplyTechsCapacityFactorData"><rect class="h" x="678" y="5070" width="223" height="24"/><text class="c" x="789.5" y="5087">SupplyTechsCapacityFactorData</text><rect class="w" x="678" y="5094" width="223" height="24"/><text x="682" y="5111">...</text><rect class="f" x="678" y="5118" width="81" height="24"/><rect class="f" x="759" y="5118" width="98" height="24"/><rect class="f" x="857" y="5118" width="44" height="24"/><text x="682" y="5135">&lt; 3</text><text class="e" x="853" y="5135">392 rows</text></g>
<g id="DemandServiceDemandsData"><rect class="h" x="686" y="5222" width="209" height="24"/><text class="c" x="790.5" y="5239">DemandServiceDemandsData</text><rect class="w" x="686" y="5246" width="209" height="24"/><text x="690" y="5263">...</text><rect class="f" x="686" y="5270" width="76" height="24"/><rect class="f" x="762" y="5270" width="92" height="24"/><rect class="f" x="854" y="5270" width="41" height="24"/><text x="690" y="5287">&lt; 6</text><text class="e" x="850" y="5287">693 rows</text></g>
<g id="DemandServiceDemandMeasuresCostData"><rect class="h" x="1058" y="5294" width="295" height="24"/><text class="c" x="1205.5" y="5311">DemandServiceDemandMeasuresCostData</text><rect class="w" x="1058" y="5318" width="295" height="24"/><text x="1062" y="5335">...</text><rect class="f" x="1058" y="5342" width="126" height="24"/><rect class="f" x="1184" y="5342" width="103" height="24"/><rect class="f" x="1287" y="5342" width="66" height="24"/><text x="1062" y="5359">&lt; 4</text><text class="e" x="1283" y="5359">0 rows</text></g>
<g id="DemandServiceDemandMeasuresData"><rect class="h" x="1074" y="5394" width="264" height="24"/><text class="c" x="1206" y="5411">DemandServiceDemandMeasuresData</text><rect class="w" x="1074" y="5418" width="264" height="24"/><text x="1078" y="5435">...</text><rect class="f" x="1074" y="5442" width="107" height="24"/><rect class="f" x="1181" y="5442" width="99" height="24"/><rect class="f" x="1280" y="5442" width="58" height="24"/><text x="1078" y="5459">&lt; 4</text><text class="e" x="1276" y="5459">60 rows</text></g>
<g id="DemandTechsParasiticEnergyData"><rect class="h" x="669" y="5411" width="240" height="24"/><text class="c" x="789" y="5428">DemandTechsParasiticEnergyData</text><rect class="w" x="669" y="5435" width="240" height="24"/><text x="673" y="5452">...</text><rect class="f" x="669" y="5459" width="96" height="24"/><rect class="f" x="765" y="5459" width="94" height="24"/><rect class="f" x="859" y="5459" width="50" height="24"/><text x="673" y="5476">&lt; 5</text><text class="e" x="855" y="5476">21 rows</text></g>
<g id="DemandEnergyDemandsData"><rect class="h" x="687" y="5510" width="205" height="24"/><text class="c" x="789.5" y="5527">DemandEnergyDemandsData</text><rect class="w" x="687" y="5534" width="205" height="24"/><text x="691" y="5551">...</text><rect class="f" x="687" y="5558" width="64" height="24"/><rect class="f" x="751" y="5558" width="106" height="24"/><rect class="f" x="857" y="5558" width="35" height="24"/><text x="691" y="5575">&lt; 5</text><text class="e" x="853" y="5575">94,949 rows</text></g>
<g id="DemandServiceEfficiencyData"><rect class="h" x="686" y="5611" width="207" height="24"/><text class="c" x="789.5" y="5628">DemandServiceEfficiencyData</text><rect class="w" x="686" y="5635" width="207" height="24"/><text x="690" y="5652">...</text><rect class="f" x="686" y="5659" width="73" height="24"/><rect class="f" x="759" y="5659" width="93" height="24"/><rect class="f" x="852" y="5659" width="41" height="24"/><text x="690" y="5676">&lt; 5</text><text class="e" x="848" y="5676">323 rows</text></g>
<g id="FinalEnergy"><rect class="h" x="408" y="5638" width="128" height="24"/><text class="c" x="472" y="5655">FinalEnergy</text><rect class="k" x="408" y="5662" width="128" height="24"/><text x="412" y="5679">id</text><rect class="w" x="408" y="5686" width="128" height="24"/><text x="412" y="5703">name</text><rect class="w" x="408" y="5710" width="128" height="24"/><text x="412" y="5727">shape_id</text><rect class="f" x="408" y="5734" width="29" height="24"/><rect class="f" x="437" y="5734" width="62" height="24"/><rect class="f" x="499" y="5734" width="37" height="24"/><text x="412" y="5751">&lt; 1</text><text class="e" x="495" y="5751">27 rows</text><text class="e" x="532" y="5751">11 &gt;</text></g>
<g id="InputTypes"><rect class="h" x="23" y="5681" width="108" height="24"/><text class="c" x="77" y="5698">InputTypes</text><rect class="w" x="23" y="5705" width="108" height="24"/><text x="27" y="5722">...</text><rect class="f" x="23" y="5729" width="18" height="24"/><rect class="f" x="41" y="5729" width="53" height="24"/><rect class="f" x="94" y="5729" width="37" height="24"/><text class="e" x="90" y="5746">2 rows</text><text class="e" x="127" y="5746">11 &gt;</text></g>
<g id="DemandFuelSwitchingMeasures"><rect class="h" x="680" y="5783" width="220" height="24"/><text class="c" x="790" y="5800">DemandFuelSwitchingMeasures</text><rect class="w" x="680" y="5807" width="220" height="24"/><text x="684" y="5824">...</text><rect class="f" x="680" y="5831" width="79" height="24"/><rect class="f" x="759" y="5831" width="87" height="24"/><rect class="f" x="846" y="5831" width="54" height="24"/><text x="684" y="5848">&lt; 4</text><text class="e" x="842" y="5848">30 rows</text><text class="e" x="896" y="5848">7 &gt;</text></g>
<g id="DemandSubsectors"><rect class="h" x="403" y="5858" width="139" height="24"/><text class="c" x="472.5" y="5875">DemandSubsectors</text><rect class="w" x="403" y="5882" width="139" height="24"/><text x="407" y="5899">...</text><rect class="f" x="403" y="5906" width="35" height="24"/><rect class="f" x="438" y="5906" width="63" height="24"/><rect class="f" x="501" y="5906" width="41" height="24"/><text x="407" y="5923">&lt; 2</text><text class="e" x="497" y="5923">63 rows</text><text class="e" x="538" y="5923">24 &gt;</text></g>
<g id="DemandEnergyEfficiencyMeasures"><rect class="h" x="671" y="5918" width="237" height="24"/><text class="c" x="789.5" y="5935">DemandEnergyEfficiencyMeasures</text>
<rect class="k" x="671" y="5942" width="237" height="24"/><text x="675" y="5959">id</text>
<rect class="w" x="671" y="5966" width="237" height="24"/><text x="675" y="5983">name</text>
<rect class="w" x="671" y="5990" width="237" height="24"/><text x="675" y="6007">subsector_id</text>
<rect class="w" x="671" y="6014" width="237" height="24"/><text x="675" y="6031">input_type_id</text>
<rect class="w" x="671" y="6038" width="237" height="24"/><text x="675" y="6055">unit</text>
<rect class="w" x="671" y="6062" width="237" height="24"/><text x="675" y="6079">geography_id</text>
<rect class="w" x="671" y="6086" width="237" height="24"/><text x="675" y="6103">other_index_1_id</text>
<rect class="w" x="671" y="6110" width="237" height="24"/><text x="675" y="6127">other_index_2_id</text>
<rect class="w" x="671" y="6134" width="237" height="24"/><text x="675" y="6151">interpolation_method_id</text>
<rect class="w" x="671" y="6158" width="237" height="24"/><text x="675" y="6175">extrapolation_method_id</text>
<rect class="w" x="671" y="6182" width="237" height="24"/><text x="675" y="6199">extrapolation_growth</text>
<rect class="w" x="671" y="6206" width="237" height="24"/><text x="675" y="6223">stock_decay_function_id</text>
<rect class="w" x="671" y="6230" width="237" height="24"/><text x="675" y="6247">min_lifetime</text>
<rect class="w" x="671" y="6254" width="237" height="24"/><text x="675" y="6271">max_lifetime</text>
<rect class="w" x="671" y="6278" width="237" height="24"/><text x="675" y="6295">mean_lifetime</text>
<rect class="w" x="671" y="6302" width="237" height="24"/><text x="675" y="6319">lifetime_variance</text>
<rect class="f" x="671" y="6326" width="88" height="24"/><rect class="f" x="759" y="6326" width="91" height="24"/><rect class="f" x="850" y="6326" width="58" height="24"/><text x="675" y="6343">&lt; 8</text><text class="e" x="846" y="6343">72 rows</text><text class="e" x="904" y="6343">4 &gt;</text></g>
<g id="DemandEnergyEfficiencyMeasurePackagesData"><rect class="h" x="1043" y="5918" width="325" height="24"/><text class="c" x="1205.5" y="5935">DemandEnergyEfficiencyMeasurePackagesData</text><rect class="w" x="1043" y="5942" width="325" height="24"/><text x="1047" y="5959">...</text><rect class="f" x="1043" y="5966" width="137" height="24"/><rect class="f" x="1180" y="5966" width="117" height="24"/><rect class="f" x="1297" y="5966" width="71" height="24"/><text x="1047" y="5983">&lt; 2</text><text class="e" x="1293" y="5983">74 rows</text></g>
<g id="Shapes"><rect class="h" x="203" y="5931" width="128" height="24"/><text class="c" x="267" y="5948">Shapes</text><rect class="w" x="203" y="5955" width="128" height="24"/><text x="207" y="5972">...</text><rect class="f" x="203" y="5979" width="37" height="24"/><rect class="f" x="240" y="5979" width="62" height="24"/><rect class="f" x="302" y="5979" width="29" height="24"/><text x="207" y="5996">&lt; 10</text><text class="e" x="298" y="5996">35 rows</text><text class="e" x="327" y="5996">5 &gt;</text></g>
<g id="OtherIndexes"><rect class="h" x="19" y="6102" width="116" height="24"/><text class="c" x="77" y="6119">OtherIndexes</text><rect class="w" x="19" y="6126" width="116" height="24"/><text x="23" y="6143">...</text><rect class="f" x="19" y="6150" width="18" height="24"/><rect class="f" x="37" y="6150" width="60" height="24"/><rect class="f" x="97" y="6150" width="38" height="24"/><text class="e" x="93" y="6167">29 rows</text><text class="e" x="131" y="6167">63 &gt;</text></g>
<g id="StockDecayFunctions"><rect class="h" x="396" y="6102" width="152" height="24"/><text class="c" x="472" y="6119">StockDecayFunctions</text><rect class="w" x="396" y="6126" width="152" height="24"/><text x="400" y="6143">...</text><rect class="f" x="396" y="6150" width="43" height="24"/><rect class="f" x="439" y="6150" width="66" height="24"/><rect class="f" x="505" y="6150" width="43" height="24"/><text class="e" x="501" y="6167">3 rows</text><text class="e" x="544" y="6167">7 &gt;</text></g>
<g id="DemandServiceDemandMeasures"><rect class="h" x="674" y="6378" width="232" height="24"/><text class="c" x="790" y="6395">DemandServiceDemandMeasures</text><rect class="w" x="674" y="6402" width="232" height="24"/><text x="678" y="6419">...</text><rect class="f" x="674" y="6426" width="85" height="24"/><rect class="f" x="759" y="6426" width="89" height="24"/><rect class="f" x="848" y="6426" width="58" height="24"/><text x="678" y="6443">&lt; 8</text><text class="e" x="844" y="6443">15 rows</text><text class="e" x="902" y="6443">4 &gt;</text></g>
<g id="Geographies"><rect class="h" x="19" y="6401" width="116" height="24"/><text class="c" x="77" y="6418">Geographies</text><rect class="w" x="19" y="6425" width="116" height="24"/><text x="23" y="6442">...</text><rect class="f" x="19" y="6449" width="18" height="24"/><rect class="f" x="37" y="6449" width="60" height="24"/><rect class="f" x="97" y="6449" width="38" height="24"/><text class="e" x="93" y="6466">12 rows</text><text class="e" x="131" y="6466">54 &gt;</text></g>
<g id="DemandCO2CaptureMeasures"><rect class="h" x="685" y="6478" width="211" height="24"/><text class="c" x="790.5" y="6495">DemandCO2CaptureMeasures</text><rect class="w" x="685" y="6502" width="211" height="24"/><text x="689" y="6519">...</text><rect class="f" x="685" y="6526" width="84" height="24"/><rect class="f" x="769" y="6526" width="82" height="24"/><rect class="f" x="851" y="6526" width="45" height="24"/><text x="689" y="6543">&lt; 8</text><text class="e" x="847" y="6543">0 rows</text></g>
<g id="DemandEnergyEfficiencyMeasuresCost"><rect class="h" x="1071" y="6608" width="268" height="24"/><text class="c" x="1205" y="6625">DemandEnergyEfficiencyMeasuresCost</text><rect class="w" x="1071" y="6632" width="268" height="24"/><text x="1075" y="6649">...</text><rect class="f" x="1071" y="6656" width="110" height="24"/><rect class="f" x="1181" y="6656" width="100" height="24"/><rect class="f" x="1281" y="6656" width="58" height="24"/><text x="1075" y="6673">&lt; 8</text><text class="e" x="1277" y="6673">55 rows</text></g>
<g id="DemandTechsMainEfficiency"><rect class="h" x="691" y="6666" width="198" height="24"/><text class="c" x="790" y="6683">DemandTechsMainEfficiency</text><rect class="w" x="691" y="6690" width="198" height="24"/><text x="695" y="6707">...</text><rect class="f" x="691" y="6714" width="68" height="24"/><rect class="f" x="759" y="6714" width="85" height="24"/><rect class="f" x="844" y="6714" width="45" height="24"/><text x="695" y="6731">&lt; 11</text><text class="e" x="840" y="6731">226 rows</text><text class="e" x="885" y="6731">1 &gt;</text></g>
<g id="DemandTechsAuxEfficiency"><rect class="h" x="694" y="6766" width="192" height="24"/><text class="c" x="790" y="6783">DemandTechsAuxEfficiency</text><rect class="w" x="694" y="6790" width="192" height="24"/><text x="698" y="6807">...</text><rect class="f" x="694" y="6814" width="79" height="24"/><rect class="f" x="773" y="6814" width="75" height="24"/><rect class="f" x="848" y="6814" width="38" height="24"/><text x="698" y="6831">&lt; 10</text><text class="e" x="844" y="6831">6 rows</text></g>
<g id="DemandFuelSwitchingMeasuresEnergyIntensity"><rect class="h" x="1047" y="6816" width="318" height="24"/><text class="c" x="1206" y="6833">DemandFuelSwitchingMeasuresEnergyIntensity</text><rect class="w" x="1047" y="6840" width="318" height="24"/><text x="1051" y="6857">...</text><rect class="f" x="1047" y="6864" width="134" height="24"/><rect class="f" x="1181" y="6864" width="114" height="24"/><rect class="f" x="1295" y="6864" width="70" height="24"/><text x="1051" y="6881">&lt; 6</text><text class="e" x="1291" y="6881">30 rows</text></g>
<g id="CleaningMethods"><rect class="h" x="16" y="6886" width="122" height="24"/><text class="c" x="77" y="6903">CleaningMethods</text><rect class="w" x="16" y="6910" width="122" height="24"/><text x="20" y="6927">...</text><rect class="f" x="16" y="6934" width="21" height="24"/><rect class="f" x="37" y="6934" width="54" height="24"/><rect class="f" x="91" y="6934" width="47" height="24"/><text class="e" x="87" y="6951">8 rows</text><text class="e" x="134" y="6951">108 &gt;</text></g>
<g id="SupplyTechsCO2Capture"><rect class="h" x="701" y="6990" width="177" height="24"/><text class="c" x="789.5" y="7007">SupplyTechsCO2Capture</text><rect class="w" x="701" y="7014" width="177" height="24"/><text x="705" y="7031">...</text><rect class="f" x="701" y="7038" width="58" height="24"/><rect class="f" x="759" y="7038" width="76" height="24"/><rect class="f" x="835" y="7038" width="43" height="24"/><text x="705" y="7055">&lt; 7</text><text class="e" x="831" y="7055">28 rows</text><text class="e" x="874" y="7055">1 &gt;</text></g>
<g id="SupplyTechsEfficiency"><rect class="h" x="710" y="7090" width="158" height="24"/><text class="c" x="789" y="7107">SupplyTechsEfficiency</text><rect class="w" x="710" y="7114" width="158" height="24"/><text x="714" y="7131">...</text><rect class="f" x="710" y="7138" width="45" height="24"/><rect class="f" x="755" y="7138" width="76" height="24"/><rect class="f" x="831" y="7138" width="37" height="24"/><text x="714" y="7155">&lt; 7</text><text class="e" x="827" y="7155">113 rows</text><text class="e" x="864" y="7155">1 &gt;</text></g>
<g id="SupplyTechsVariableMaintenanceCost"><rect class="h" x="660" y="7190" width="258" height="24"/><text class="c" x="789" y="7207">SupplyTechsVariableMaintenanceCost</text><rect class="w" x="660" y="7214" width="258" height="24"/><text x="664" y="7231">...</text><rect class="f" x="660" y="7238" width="99" height="24"/><rect class="f" x="759" y="7238" width="96" height="24"/><rect class="f" x="855" y="7238" width="63" height="24"/><text x="664" y="7255">&lt; 9</text><text class="e" x="851" y="7255">81 rows</text><text class="e" x="914" y="7255">1 &gt;</text></g>
<text x="16" y="7375">Generated by SchemaSpy</text>
</svg>
